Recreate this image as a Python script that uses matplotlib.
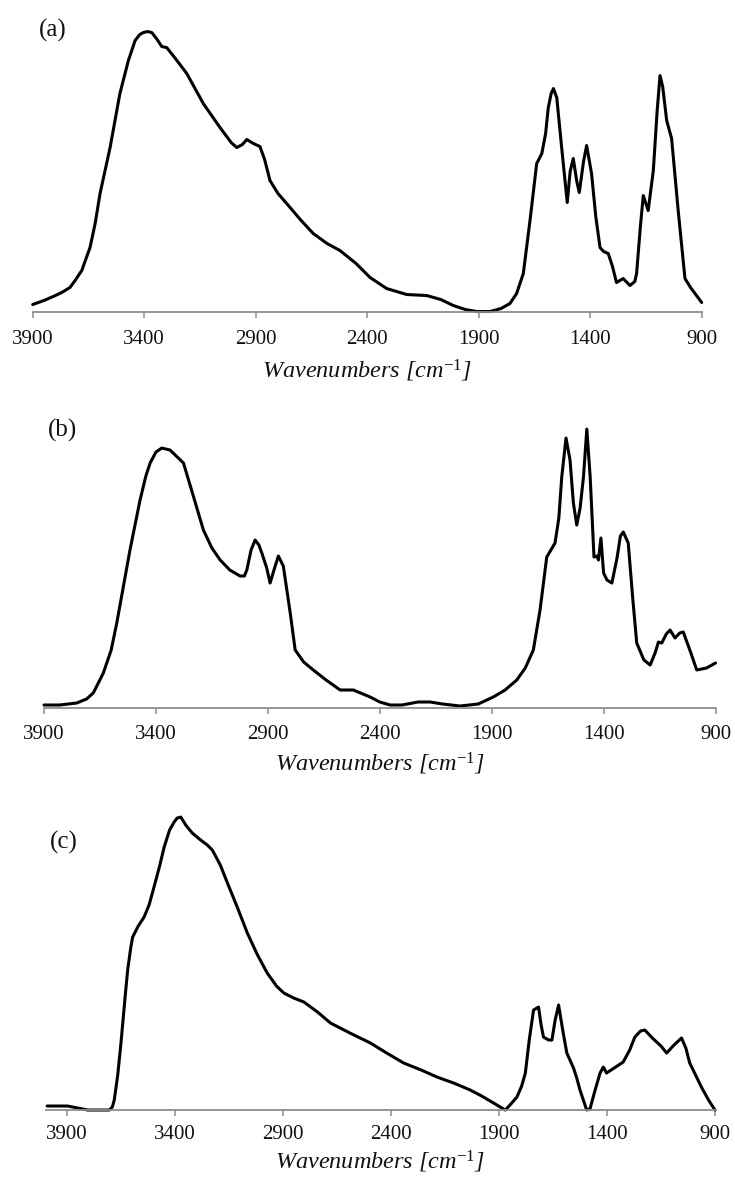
import matplotlib.pyplot as plt

# FTIR spectra, relative absorbance (arbitrary units)
a_wn = [3900, 3850, 3808, 3770, 3733, 3710, 3680, 3643, 3620, 3598, 3553, 3509, 3471, 3441,
        3420, 3404, 3385, 3366, 3345, 3321, 3299, 3260, 3209, 3135, 3060, 3010, 2985, 2960,
        2940, 2910, 2881, 2860, 2836, 2800, 2761, 2700, 2642, 2580, 2522, 2450, 2387, 2313,
        2223, 2133, 2070, 2014, 1960, 1909, 1880, 1849, 1800, 1760, 1730, 1700, 1670, 1640,
        1617, 1600, 1588, 1575, 1565, 1550, 1528, 1503, 1490, 1476, 1460, 1449, 1430, 1416,
        1394, 1375, 1356, 1340, 1319, 1300, 1282, 1252, 1222, 1200, 1192, 1175, 1162, 1140,
        1117, 1100, 1087, 1075, 1057, 1035, 1005, 975, 950, 930, 900]
a_abs = [7, 11, 15, 19, 24, 31, 41, 64, 88, 118, 164, 218, 251, 271,
         277, 279, 280, 279, 273, 265, 264, 253, 238, 208, 184, 169, 164, 167,
         172, 168, 165, 152, 131, 118, 108, 92, 78, 68, 61, 48, 34, 23,
         17, 16, 12, 6, 2, 0, 0, 0, 3, 8, 18, 38, 91, 148,
         158, 178, 204, 218, 223, 214, 164, 109, 140, 153, 130, 119, 150, 166,
         138, 95, 64, 60, 58, 45, 29, 33, 26, 30, 38, 85, 116, 101,
         141, 200, 236, 225, 191, 173, 100, 33, 24, 18, 9]

b_wn = [3900, 3830, 3754, 3710, 3680, 3635, 3600, 3575, 3516, 3471, 3445, 3426, 3400, 3374,
        3337, 3300, 3277, 3233, 3188, 3150, 3113, 3070, 3024, 3005, 2994, 2975, 2957, 2940,
        2927, 2905, 2890, 2870, 2853, 2831, 2800, 2778, 2740, 2697, 2640, 2577, 2518, 2443,
        2400, 2354, 2300, 2230, 2175, 2120, 2041, 1960, 1893, 1840, 1788, 1750, 1714, 1684,
        1654, 1617, 1600, 1587, 1568, 1550, 1535, 1520, 1505, 1490, 1475, 1460, 1443, 1430,
        1423, 1412, 1400, 1385, 1363, 1340, 1325, 1312, 1290, 1270, 1252, 1220, 1192, 1170,
        1155, 1140, 1120, 1103, 1081, 1060, 1044, 1010, 984, 940, 900]
b_abs = [3, 3, 5, 9, 15, 35, 58, 85, 158, 208, 232, 245, 256, 260,
         258, 250, 245, 212, 178, 160, 148, 138, 132, 132, 138, 158, 168, 163,
         155, 140, 125, 140, 152, 142, 95, 58, 46, 38, 28, 18, 18, 11,
         6, 3, 3, 6, 6, 4, 2, 4, 11, 18, 28, 40, 58, 98,
         151, 165, 190, 231, 270, 248, 205, 183, 200, 231, 279, 231, 151, 152,
         148, 170, 135, 128, 125, 150, 172, 176, 165, 110, 65, 48, 43, 55,
         66, 65, 74, 78, 70, 75, 76, 55, 38, 40, 45]

c_wn = [3992, 3897, 3850, 3804, 3750, 3704, 3690, 3681, 3665, 3650, 3630, 3619, 3605, 3596,
        3570, 3543, 3520, 3497, 3470, 3450, 3425, 3404, 3390, 3373, 3350, 3320, 3281, 3250,
        3227, 3190, 3157, 3110, 3065, 3020, 2973, 2930, 2896, 2850, 2803, 2740, 2680, 2590,
        2495, 2420, 2341, 2260, 2187, 2110, 2033, 1980, 1925, 1871, 1845, 1817, 1795, 1778,
        1760, 1740, 1717, 1705, 1694, 1670, 1655, 1640, 1624, 1605, 1586, 1555, 1540, 1525,
        1494, 1479, 1455, 1432, 1417, 1402, 1360, 1325, 1295, 1271, 1245, 1225, 1190, 1150,
        1124, 1090, 1055, 1035, 1017, 990, 963, 930, 900]
c_abs = [4, 4, 2, 0, 0, 0, 3, 10, 35, 67, 115, 140, 162, 173,
         184, 193, 205, 223, 245, 263, 280, 288, 292, 293, 285, 277, 270, 265,
         260, 245, 227, 202, 177, 156, 137, 124, 117, 112, 108, 98, 87, 77,
         67, 57, 47, 40, 33, 27, 20, 14, 7, 0, 6, 13, 24, 37,
         70, 100, 103, 85, 73, 70, 70, 90, 105, 80, 57, 42, 32, 20,
         0, 1, 20, 37, 43, 37, 43, 48, 60, 73, 79, 80, 72, 64,
         57, 65, 72, 62, 47, 35, 23, 10, 0]

tick_pos = [3900, 3400, 2900, 2400, 1900, 1400, 900]
panel_tags = ["(a)", "(b)", "(c)"]

plt.rcParams["font.family"] = ["Liberation Serif", "DejaVu Serif"]
plt.rcParams["mathtext.fontset"] = "custom"
plt.rcParams["mathtext.rm"] = "Liberation Serif"
plt.rcParams["mathtext.it"] = "Liberation Serif:italic"
plt.rcParams["mathtext.default"] = "it"

fig = plt.figure(figsize=(7.35, 11.8), dpi=100)

# [left, bottom, width, height] in figure fractions, x-limits, tick pad, label pad
panels = [
    ([0.0445, 0.7360, 0.9102, 0.2542], (3900, 900), 9, 7),
    ([0.0599, 0.4000, 0.9136, 0.2542], (3900, 900), 8, 5),
    ([0.0626, 0.0593, 0.9102, 0.2542], (3997, 900), 7, 3),
]
tag_xy = [(0.072, 0.9746), (0.0844, 0.6356), (0.0871, 0.2864)]
spectra = [(a_wn, a_abs), (b_wn, b_abs), (c_wn, c_abs)]

for (rect, xlim, tpad, lpad), (wn, ab), tag, (tx, ty) in zip(panels, spectra, panel_tags, tag_xy):
    ax = fig.add_axes(rect)
    ax.plot(wn, ab, color="black", lw=2.2, clip_on=False,
            solid_joinstyle="round", solid_capstyle="round")
    ax.set_xlim(*xlim)
    ax.set_ylim(0, 300)
    for s in ["top", "left", "right"]:
        ax.spines[s].set_visible(False)
    ax.spines["bottom"].set_color("#8c8c8c")
    ax.spines["bottom"].set_linewidth(1.3)
    ax.set_yticks([])
    ax.set_xticks(tick_pos)
    ax.set_xticklabels([str(t) for t in tick_pos])
    ax.tick_params(axis="x", direction="out", length=4, width=1.1, color="#8c8c8c",
                   pad=tpad, labelsize=15, labelcolor="#111111")
    ax.set_xlabel("Wavenumbers [cm$^{-1}$]", fontsize=17.5, fontstyle="italic",
                  labelpad=lpad, color="#111111")
    fig.text(tx, ty, tag, fontsize=18, ha="center", va="center", color="#111111")

fig.savefig("out.png", dpi=100)
